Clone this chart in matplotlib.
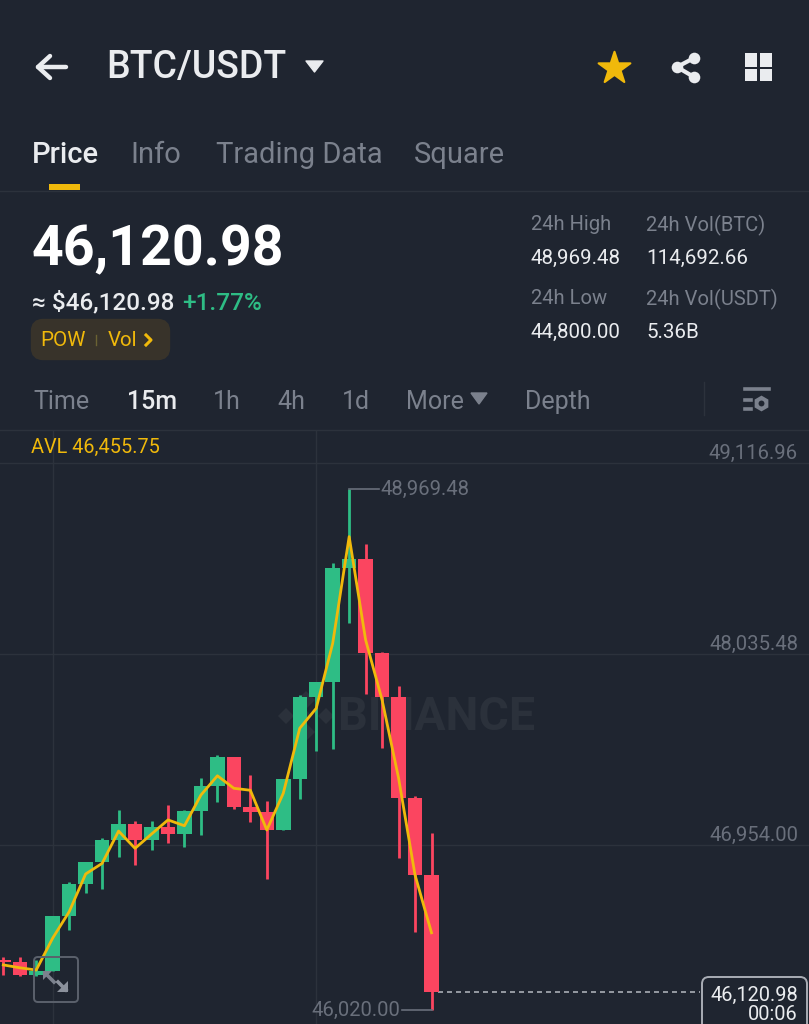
import matplotlib
matplotlib.use('Agg')
import matplotlib.pyplot as plt
from matplotlib.patches import FancyBboxPatch, Rectangle, Polygon
from matplotlib.transforms import blended_transform_factory

plt.rcParams['font.family'] = ['Roboto', 'DejaVu Sans']

# 15m candles
opens = [46303, 46290, 46218, 46242, 46552, 46731, 46859, 46982, 47071, 46982,
         47058, 47016, 47147, 47288, 47451, 47171, 47139, 47039, 47326, 47794,
         47877, 48524, 48572, 48039, 47794, 47218, 46784]
closes = [46294, 46218, 46242, 46552, 46731, 46859, 46982, 47071, 46982, 47058,
          47016, 47147, 47288, 47451, 47171, 47139, 47039, 47326, 47794, 47877,
          48524, 48572, 48039, 47794, 47218, 46784, 46120.98]
highs = [46320, 46320, 46303, 46552, 46743, 46859, 46992, 47152, 47090, 47090,
         47179, 47152, 47332, 47464, 47451, 47350, 47201, 47326, 47803, 47877,
         48549, 48969.48, 48658, 48047, 47854, 47231, 47024]
lows = [46218, 46212, 46212, 46242, 46473, 46684, 46705, 46884, 46841, 46926,
        46964, 46941, 47011, 47199, 47158, 47086, 46761, 47039, 47213, 47485,
        47499, 48209, 47809, 47502, 46882, 46463, 46020]
avl = [46275, 46259, 46246, 46427, 46576, 46790, 46850, 47033, 46935, 47016,
       47096, 47063, 47237, 47346, 47275, 47264, 47039, 47247, 47615, 47728,
       48096, 48700, 48115, 47775, 47333, 46784, 46457]

price_ticks = [49116.96, 48035.48, 46954.00]
price_tick_labels = ['49,116.96', '48,035.48', '46,954.00']
time_grid = [3, 19]
last_price = 46120.98
high_label = '48,969.48'
low_label = '46,020.00'

tabs = ['Price', 'Info', 'Trading Data', 'Square']
tab_x = [32, 130, 216, 414]
intervals = ['Time', '15m', '1h', '4h', '1d', 'More', 'Depth']
interval_x = [33, 127, 213, 277, 342, 406, 525]
stats = [('24h High', '48,969.48', 531, 225), ('24h Vol(BTC)', '114,692.66', 646, 225),
         ('24h Low', '44,800.00', 531, 299), ('24h Vol(USDT)', '5.36B', 646, 299)]

BG = '#1f2530'
GRID = '#2c323c'
GREEN = '#2ebd85'
RED = '#fb4560'
YELLOW = '#f0b90b'
WHITE = '#eaecef'
DIM = '#7b818d'
AXIS = '#696f7b'

fig = plt.figure(figsize=(8.09, 10.24), dpi=100, facecolor=BG)

# pixel-space layers: watermark below the chart, app chrome above it
under = fig.add_axes([0, 0, 1, 1], zorder=0)
under.set_xlim(0, 809)
under.set_ylim(1024, 0)
under.axis('off')
under.set_facecolor(BG)

ax = fig.add_axes([0, 0, 1, 594 / 1024], zorder=1)
ax.patch.set_alpha(0)
ui = fig.add_axes([0, 0, 1, 1], zorder=2)
ui.set_xlim(0, 809)
ui.set_ylim(1024, 0)
ui.axis('off')
ui.patch.set_alpha(0)


def label(x, y, s, size, color, weight='normal', ha='left'):
    ui.text(x, y, s, fontsize=size, color=color, fontweight=weight,
            ha=ha, va='center')


# watermark
under.text(338, 717, 'BINANCE', fontsize=33.5, fontweight='bold', color='#2b313b',
           ha='left', va='center')
for cx, cy, r in [(306, 700, 9), (306, 732, 9), (286, 716, 8), (326, 716, 8), (306, 716, 6)]:
    under.add_patch(Polygon([(cx - r, cy), (cx, cy - r), (cx + r, cy), (cx, cy + r)],
                            color='#2b313b', lw=0))

# chart
ax.set_xlim(-0.2, 48.92)
ax.set_ylim(45940.5, 49303.8)
for sp in ax.spines.values():
    sp.set_visible(False)
ax.set_xticks(time_grid)
ax.set_yticks(price_ticks)
ax.tick_params(length=0, labelleft=False, labelbottom=False)
ax.grid(True, color=GRID, linewidth=1)
ax.set_axisbelow(True)

xs = range(len(opens))
for i in xs:
    color = GREEN if closes[i] >= opens[i] else RED
    ax.vlines(i, lows[i], highs[i], color=color, linewidth=2, zorder=2)
    ax.bar(i, abs(closes[i] - opens[i]), bottom=min(opens[i], closes[i]),
           width=0.88, color=color, zorder=3)
ax.plot(list(xs), avl, color=YELLOW, linewidth=2, zorder=4, solid_joinstyle='round')

# last price and high/low leaders
ax.plot([26.4, 42.3], [last_price, last_price], color='#a9adb5', linewidth=1.2,
        linestyle=(0, (3, 2.4)), zorder=2)
ax.plot([21, 22.8], [highs[21], highs[21]], color=AXIS, linewidth=1.2, zorder=2)
ax.text(22.9, highs[21], high_label, fontsize=14.6, color=AXIS, va='center')
ax.plot([26, 24.2], [lows[26], lows[26]], color=AXIS, linewidth=1.2, zorder=2)
ax.text(24.1, lows[26], low_label, fontsize=14.6, color=AXIS, va='center', ha='right')

tr = blended_transform_factory(ax.transAxes, ax.transData)
for p, s in zip(price_ticks, price_tick_labels):
    ax.annotate(s, xy=(798 / 809, p), xycoords=tr, xytext=(0, 7),
                textcoords='offset points', fontsize=14.6, color=AXIS,
                ha='right', va='center')

# header
ui.plot([38, 66], [67, 67], color=WHITE, lw=3.2, solid_capstyle='round')
ui.plot([50, 38, 50], [56, 67, 78], color=WHITE, lw=3.2, solid_capstyle='round',
        solid_joinstyle='round')
label(106, 68, 'BTC/USDT', 27, WHITE, 'medium')
ui.add_patch(Polygon([(306, 61), (323, 61), (314.5, 72)], color=WHITE, lw=1, joinstyle='round'))
ui.scatter([614], [68], marker='*', s=580, color=YELLOW, linewidths=1.5, edgecolors=YELLOW)
ui.plot([694, 677, 694], [58, 67, 77], color=WHITE, lw=3)
ui.scatter([694, 677, 694], [58, 67, 77], s=70, color=WHITE, linewidths=0)
for gx, gy, gw, gh in [(745, 53, 12, 14), (760, 53, 12, 14), (745, 69, 12, 12), (760, 69, 12, 12)]:
    ui.add_patch(Rectangle((gx, gy), gw, gh, color=WHITE, lw=0))

# tabs
for s, x, c in zip(tabs, tab_x, [WHITE, DIM, DIM, DIM]):
    label(x, 155, s, 21, c, 'medium' if s == 'Price' else 'normal')
ui.add_patch(Rectangle((49, 184), 31, 6, color=YELLOW, lw=0))
ui.plot([0, 809], [190.5, 190.5], color=GRID, lw=1)

# price block
label(32, 250, '46,120.98', 40, '#ffffff', 'bold')
label(32, 303, '≈ $46,120.98', 17.5, WHITE, 'medium')
label(182, 303, '+1.77%', 17.5, GREEN, 'medium')
ui.add_patch(FancyBboxPatch((35, 323), 131, 33, boxstyle='round,pad=0,rounding_size=8',
                            mutation_aspect=1, fc='#38332a', ec='#38332a', lw=6))
label(40, 341, 'POW', 14.8, YELLOW)
ui.plot([96, 96], [335, 345], color='#6b6233', lw=1)
label(108, 341, 'Vol', 14.8, YELLOW)
ui.plot([146, 151, 146], [335, 340, 345], color=YELLOW, lw=2.2)

for head, val, x, y in stats:
    label(x, y, head, 14.5, DIM)
    label(x, y + 33, val, 14.8, WHITE)

# interval row
for s, x in zip(intervals, interval_x):
    c = WHITE if s == '15m' else DIM
    label(x, 402, s, 18, c, 'medium' if s == '15m' else 'normal')
ui.add_patch(Polygon([(471, 393), (487, 393), (479, 404)], color=DIM, lw=1))
ui.plot([704, 704], [382, 415], color=GRID, lw=1)
ui.plot([745, 769], [389, 389], color=DIM, lw=2.6)
ui.plot([745, 751], [400, 400], color=DIM, lw=2.6)
ui.plot([745, 751], [409, 409], color=DIM, lw=2.6)
ui.scatter([761], [403], s=130, marker='h', color=DIM, linewidths=0)
ui.scatter([761], [403], s=18, color=BG, linewidths=0)
ui.plot([0, 809], [429.5, 429.5], color=GRID, lw=1)
label(31, 447, 'AVL 46,455.75', 14.3, YELLOW)

# expand button
ui.add_patch(FancyBboxPatch((34, 957), 44, 45, boxstyle='round,pad=0,rounding_size=4',
                            fc='none', ec='#5b616c', lw=1.4))
ui.plot([45, 54], [973, 982], color='#7b818d', lw=2.6)
ui.add_patch(Polygon([(43, 971), (52, 971), (43, 980)], color='#7b818d', lw=0))
ui.plot([58, 66], [982, 990], color='#8b919c', lw=2.6)
ui.add_patch(Polygon([(68, 992), (68, 981), (57, 992)], color='#8b919c', lw=0))

# last price box, runs off the bottom edge
ui.add_patch(FancyBboxPatch((702, 977), 105, 60, boxstyle='round,pad=0,rounding_size=7',
                            fc=BG, ec='#a9adb5', lw=1.4))
label(798, 995, '46,120.98', 14.4, WHITE, ha='right')
label(798, 1015, '00:06', 14.4, WHITE, ha='right')

fig.savefig('out.png', dpi=100, facecolor=BG)
